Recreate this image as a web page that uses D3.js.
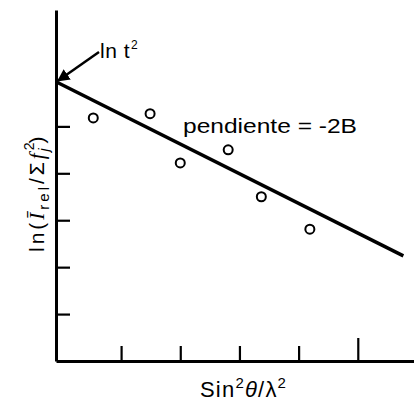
<!DOCTYPE html>
<html>
<head>
<meta charset="utf-8">
<script src="https://cdn.jsdelivr.net/npm/d3@7"></script>
<style>
  body { margin: 0; background: #fff; }
  text { font-family: "Liberation Sans", Arial, sans-serif; fill: #000; }
</style>
</head>
<body>
<svg id="chart" width="414" height="405"></svg>
<script>
// measured points (sin^2 theta / lambda^2 , ln(I/sum f^2))
const xValues = [0.53, 1.49, 2.0, 2.81, 3.37, 4.19];
const yValues = [5.18, 5.27, 4.22, 4.5, 3.5, 2.81];
// fitted straight line, two end points
const fitX = [-0.1, 5.77];
const fitY = [5.95, 2.24];
const xTicks = [1, 2, 3, 4, 5];
const yTicks = [1, 2, 3, 4, 5];

let svg = d3.select('#chart');

let xScale = d3.scaleLinear()
    .domain([-0.1, 5.95])
    .range([56, 414]);

let yScale = d3.scaleLinear()
    .domain([0, 7.48])
    .range([361, 10]);

// axes - ticks point inside the plot
let xAxisGroup = svg.append('g')
    .attr('transform', 'translate(0,' + yScale(0) + ')')
    .call(d3.axisBottom(xScale).tickValues(xTicks).tickSizeInner(-15).tickSizeOuter(0).tickFormat(''));

let yAxisGroup = svg.append('g')
    .attr('transform', 'translate(' + xScale(-0.1) + ',0)')
    .call(d3.axisLeft(yScale).tickValues(yTicks).tickSizeInner(-14).tickSizeOuter(0).tickFormat(''));

[xAxisGroup, yAxisGroup].forEach(g => {
    g.select('.domain').attr('stroke', '#000').attr('stroke-width', 3);
    g.selectAll('.tick line').attr('stroke', '#000').attr('stroke-width', 2.2);
});
// the last x tick is drawn longer in the original
xAxisGroup.selectAll('.tick line').filter(d => d === 5).attr('y2', -23);

// fitted line
let fit = fitX.map((x, i) => ({x: x, y: fitY[i]}));
svg.append('path')
    .datum(fit)
    .attr('fill', 'none')
    .attr('stroke', '#000')
    .attr('stroke-width', 3.5)
    .attr('d', d3.line().x(d => xScale(d.x)).y(d => yScale(d.y)));

// data points
let pts = xValues.map((x, i) => ({x: x, y: yValues[i]}));
svg.selectAll('circle.pt')
    .data(pts)
  .join('circle')
    .attr('class', 'pt')
    .attr('cx', d => xScale(d.x))
    .attr('cy', d => yScale(d.y))
    .attr('r', 4.5)
    .attr('fill', '#fff')
    .attr('stroke', '#000')
    .attr('stroke-width', 2);

// slope label
svg.append('text')
    .attr('x', 183)
    .attr('y', 133)
    .attr('font-size', 21)
    .attr('textLength', 174)
    .attr('lengthAdjust', 'spacingAndGlyphs')
    .text('pendiente = -2B');

// intercept label with arrow
svg.append('defs').append('marker')
    .attr('id', 'head')
    .attr('viewBox', '0 0 10 10')
    .attr('refX', 9).attr('refY', 5)
    .attr('markerWidth', 5).attr('markerHeight', 5)
    .attr('markerUnits', 'strokeWidth')
    .attr('orient', 'auto')
  .append('path')
    .attr('d', 'M0,0 L10,5 L0,10 Z')
    .attr('fill', '#000');

let x0 = xScale(fitX[0]), y0 = yScale(fitY[0]);
svg.append('line')
    .attr('x1', 99).attr('y1', 52)
    .attr('x2', x0 + 2).attr('y2', y0 - 1)
    .attr('stroke', '#000')
    .attr('stroke-width', 2.5)
    .attr('marker-end', 'url(#head)');

let lnt = svg.append('text')
    .attr('x', 100)
    .attr('y', 58)
    .attr('font-size', 21)
    .attr('letter-spacing', 0.5);
lnt.append('tspan').text('ln t');
lnt.append('tspan').attr('font-size', 12).attr('dy', -9).attr('dx', 1).text('2');

// x axis title
let xt = svg.append('text')
    .attr('x', 200)
    .attr('y', 397)
    .attr('font-size', 22)
    .attr('letter-spacing', 1.2);
xt.append('tspan').text('Sin');
xt.append('tspan').attr('font-size', 15).attr('dy', -9).text('2');
xt.append('tspan').attr('dy', 9).attr('font-style', 'italic').text('θ');
xt.append('tspan').text('/λ');
xt.append('tspan').attr('font-size', 15).attr('dy', -9).text('2');

// y axis title
let yt = svg.append('text')
    .attr('transform', 'translate(44,252) rotate(-90)')
    .attr('font-size', 21)
    .attr('letter-spacing', 3);
yt.append('tspan').text('ln(');
yt.append('tspan').attr('font-style', 'italic').attr('font-family', '"Liberation Serif", serif').text('Ī');
yt.append('tspan').attr('font-size', 15).attr('dy', 5).text('rel');
yt.append('tspan').attr('dy', -5).text('/Σ');
yt.append('tspan').attr('font-style', 'italic').attr('font-family', '"Liberation Serif", serif').text('f');
yt.append('tspan').attr('font-size', 14).attr('dy', -10).text('2');
yt.append('tspan').attr('font-size', 14).attr('font-style', 'italic').attr('dx', -12).attr('dy', 15).text('j');
yt.append('tspan').attr('dy', -5).attr('dx', 2).text(')');
</script>
</body>
</html>
